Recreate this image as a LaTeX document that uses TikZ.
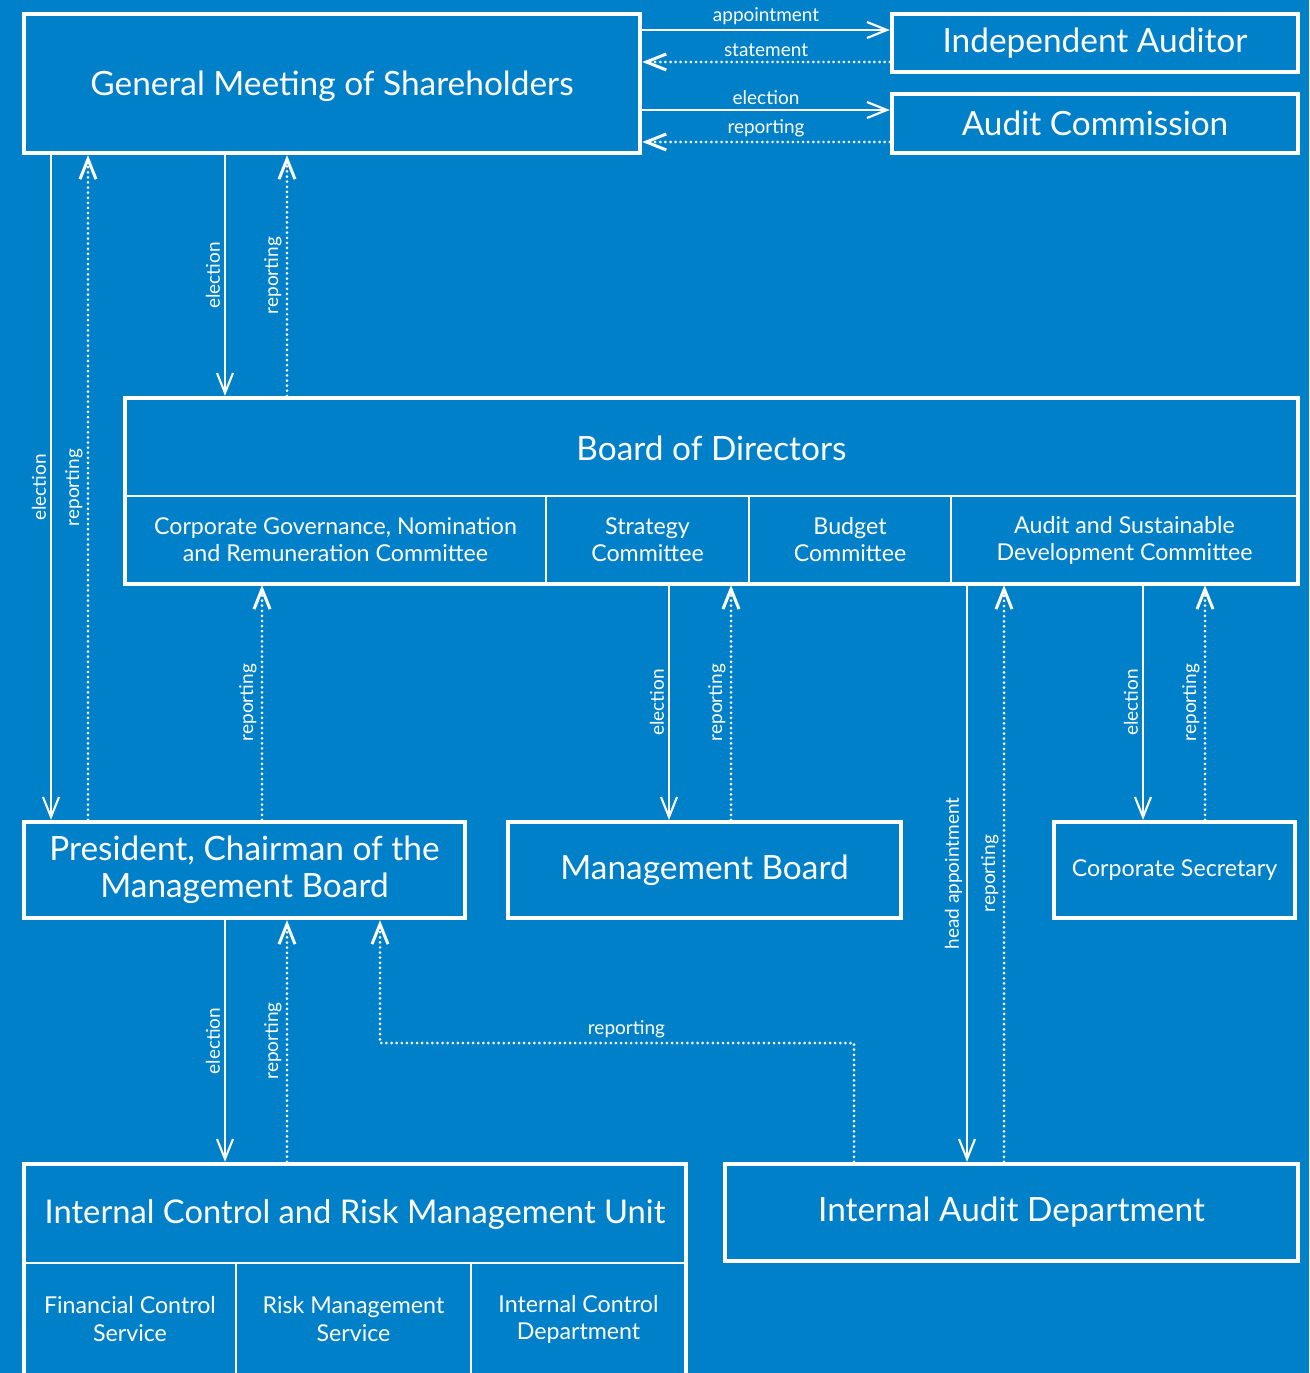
\documentclass[tikz,border=0pt]{standalone}
\usepackage{fontspec}
\setmainfont{Lato}
\usetikzlibrary{arrows.meta}
\definecolor{bgblue}{RGB}{0,128,200}

\begin{document}
\begin{tikzpicture}[x=0.01cm, y=-0.01cm,
    every node/.style={text=white, align=center, inner sep=0pt},
    box/.style={draw=white, line width=1.2pt, font=\fontsize{9.5}{10.5}\selectfont},
    cell/.style={draw=white, line width=0.6pt, font=\fontsize{6.6}{7.7}\selectfont},
    lbl/.style={font=\fontsize{5.4}{6}\selectfont, inner sep=1.1pt},
    elec/.style={draw=white, line width=0.6pt, -{Straight Barb[length=2mm,width=1.6mm]}},
    rep/.style={elec, line width=0.85pt, line cap=round, dash pattern=on 0pt off 1.45pt}]
    \path[use as bounding box, fill=bgblue] (0,0) rectangle (1309,1373);
    \clip (0,0) rectangle (1309,1373);

    % top row
    \node[box, minimum width=6.16cm, minimum height=1.39cm, text height=8.7pt, text depth=2pt] (gms) at (332,83.5) {General Meeting of Shareholders};
    \node[box, minimum width=4.06cm, minimum height=0.58cm] (ia) at (1095,43) {Independent Auditor};
    \node[box, minimum width=4.06cm, minimum height=0.59cm] (ac) at (1095,123.5) {Audit Commission};

    % board of directors with its committees
    \node[box, minimum width=11.73cm, minimum height=1.86cm] (bod) at (711.5,491) {};
    \node[box, draw=none] (bodt) at (711.5,448) {Board of Directors};
    \node[cell, minimum width=4.21cm, minimum height=0.88cm] (cgnr) at (335.5,540) {Corporate Governance, Nomination\\and Remuneration Committee};
    \node[cell, minimum width=2.03cm, minimum height=0.88cm] (strat) at (647.5,540) {Strategy\\Committee};
    \node[cell, minimum width=2.02cm, minimum height=0.88cm] (budg) at (850,540) {Budget\\Committee};
    \node[cell, minimum width=3.47cm, minimum height=0.88cm] (asd) at (1124.5,540) {Audit and Sustainable\\Development Committee};

    % middle row
    \node[box, minimum width=4.41cm, minimum height=0.96cm] (pres) at (244.5,870) {President, Chairman of the\\Management Board};
    \node[box, minimum width=3.93cm, minimum height=0.96cm] (mb) at (704.5,870) {Management Board};
    \node[box, minimum width=2.41cm, minimum height=0.96cm, font=\fontsize{6.6}{7.7}\selectfont] (cs) at (1174.5,870) {Corporate Secretary};

    % bottom row
    \node[box, minimum width=6.62cm, minimum height=2.36cm] (icrm) at (355,1282) {};
    \node[box, draw=none, font=\fontsize{9.3}{10.5}\selectfont] (icrmt) at (355,1214) {Internal Control and Risk Management Unit};
    \node[cell, minimum width=2.12cm, minimum height=1.12cm] (fcs) at (130,1319) {Financial Control\\Service};
    \node[cell, minimum width=2.35cm, minimum height=1.12cm] (rms) at (353.5,1319) {Risk Management\\Service};
    \node[cell, minimum width=2.15cm, minimum height=1.12cm] (icd) at (578.5,1319) {Internal Control\\Department};
    \node[box, minimum width=5.73cm, minimum height=0.97cm] (iad) at (1011.5,1212.5) {Internal Audit Department};

    % shareholders and auditors
    \draw[elec] (gms.east |- 0,30) -- node[lbl, above]{appointment} (ia.west |- 0,30);
    \draw[rep] (ia.west |- 0,62) -- node[lbl, above]{statement} (gms.east |- 0,62);
    \draw[elec] (gms.east |- 0,110) -- node[lbl, above]{election} (ac.west |- 0,110);
    \draw[rep] (ac.west |- 0,142) -- node[lbl, above]{reporting} (gms.east |- 0,142);

    % shareholders, board and president
    \draw[elec] (51,0 |- gms.south) -- node[lbl, rotate=90, anchor=south]{election} (51,0 |- pres.north);
    \draw[rep] (88,0 |- pres.north) -- node[lbl, rotate=90, anchor=south]{reporting} (88,0 |- gms.south);
    \draw[elec] (225,0 |- gms.south) -- node[lbl, rotate=90, anchor=south]{election} (225,0 |- bod.north);
    \draw[rep] (287,0 |- bod.north) -- node[lbl, rotate=90, anchor=south]{reporting} (287,0 |- gms.south);
    \draw[rep] (262,0 |- pres.north) -- node[lbl, rotate=90, anchor=south]{reporting} (262,0 |- cgnr.south);

    % committees and their units
    \draw[elec] (669,0 |- strat.south) -- node[lbl, rotate=90, anchor=south]{election} (669,0 |- mb.north);
    \draw[rep] (731,0 |- mb.north) -- node[lbl, rotate=90, anchor=south]{reporting} (731,0 |- strat.south);
    \draw[elec] (967,0 |- asd.south) -- node[lbl, rotate=90, anchor=south]{head appointment} (967,0 |- iad.north);
    \draw[rep] (1004,0 |- iad.north) -- node[lbl, rotate=90, anchor=south]{reporting} (1004,0 |- asd.south);
    \draw[elec] (1143,0 |- asd.south) -- node[lbl, rotate=90, anchor=south]{election} (1143,0 |- cs.north);
    \draw[rep] (1205,0 |- cs.north) -- node[lbl, rotate=90, anchor=south]{reporting} (1205,0 |- asd.south);

    % president and control units
    \draw[elec] (225,0 |- pres.south) -- node[lbl, rotate=90, anchor=south]{election} (225,0 |- icrm.north);
    \draw[rep] (287,0 |- icrm.north) -- node[lbl, rotate=90, anchor=south]{reporting} (287,0 |- pres.south);
    \draw[rep] (854,0 |- iad.north) |- node[lbl, pos=0.74, above]{reporting} (380,1043) -- (380,0 |- pres.south);
\end{tikzpicture}
\end{document}
